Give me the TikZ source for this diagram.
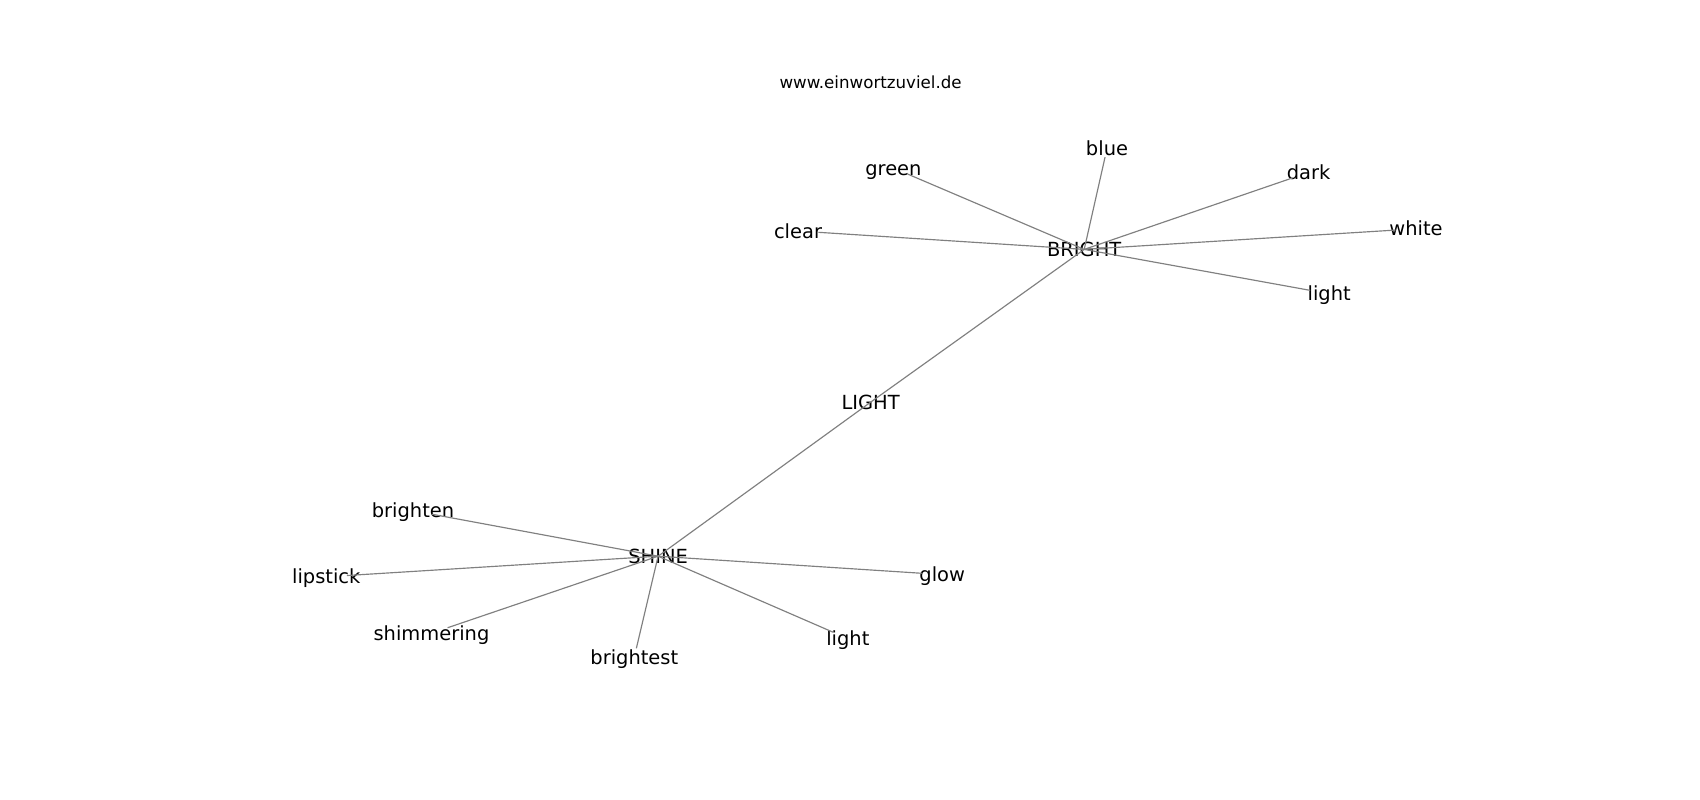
\documentclass[tikz,border=0pt]{standalone}
\usepackage{fontspec}
\usetikzlibrary{shapes.geometric}
\setmainfont{DejaVu Sans}
\begin{document}
\begin{tikzpicture}[x=0.01cm,y=-0.01cm,
  hub/.style={inner sep=0pt,text height=0.142cm,text depth=0pt,
    font=\fontsize{5.53pt}{6.5pt}\selectfont},
  leaf/.style={shape=ellipse,inner xsep=0pt,inner ysep=-0.0144cm,
    minimum width=0.4cm,minimum height=0pt,
    text height=0.142cm,text depth=0pt,
    font=\fontsize{5.53pt}{6.5pt}\selectfont},
  link/.style={draw=black!50,line width=0.33pt}]
\useasboundingbox[fill=white] (0,0) rectangle (1700,800);
\node[font=\fontsize{4.74pt}{5.5pt}\selectfont] (title) at (870.6,82.4) {www.einwortzuviel.de};
% hubs
\node[hub] (BRIGHT) at (1084.2,249.4) {BRIGHT};
\node[hub] (LIGHT) at (870.6,402.2) {LIGHT};
\node[hub] (SHINE) at (658.1,556.2) {SHINE};
% BRIGHT leaves
\node[leaf] (blue) at (1107,148.5) {\makebox[0pt]{blue}};
\node[leaf] (green) at (893.4,168) {\makebox[0pt]{green}};
\node[leaf] (dark) at (1308.6,172.4) {\makebox[0pt]{dark}};
\node[leaf] (clear) at (798,231) {\makebox[0pt]{clear}};
\node[leaf] (white) at (1416,228.8) {\makebox[0pt]{white}};
\node[leaf] (lightA) at (1329.2,293.8) {\makebox[0pt]{light}};
% SHINE leaves
\node[leaf] (brighten) at (413,510.7) {\makebox[0pt]{brighten}};
\node[leaf] (lipstick) at (326.3,576.8) {\makebox[0pt]{lipstick}};
\node[leaf] (shimmering) at (431.5,633.2) {\makebox[0pt]{shimmering}};
\node[leaf] (brightest) at (634.3,657) {\makebox[0pt]{brightest}};
\node[leaf] (lightB) at (847.8,638.6) {\makebox[0pt]{light}};
\node[leaf] (glow) at (942.2,574.6) {\makebox[0pt]{glow}};
% edges
\draw[link] (LIGHT.center) -- (BRIGHT.center);
\draw[link] (LIGHT.center) -- (SHINE.center);
\foreach \w in {blue,green,dark,clear,white,lightA}
  \draw[link] (BRIGHT.center) -- (\w);
\foreach \w in {brighten,lipstick,shimmering,brightest,lightB,glow}
  \draw[link] (SHINE.center) -- (\w);
\end{tikzpicture}
\end{document}
